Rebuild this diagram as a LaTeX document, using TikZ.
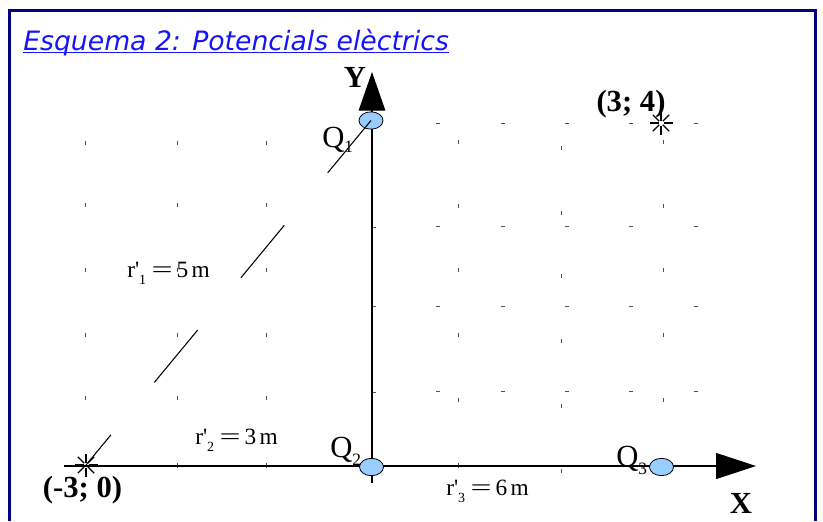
\documentclass[tikz,border=0pt]{standalone}
\usepackage{fontspec}
\setmainfont{Liberation Serif}[Ligatures=TeXOff]
\newfontfamily\titlefont{DejaVu Sans}
\usetikzlibrary{shapes.geometric,arrows.meta}
\definecolor{framenavy}{HTML}{000080}
\definecolor{titleblue}{HTML}{1414FF}
\definecolor{chargeblue}{HTML}{99CCFF}
\definecolor{gridgray}{HTML}{505050}
\newcommand{\qsub}[2]{\raisebox{#1}{\fontsize{13}{13}\selectfont #2}}
\newcommand{\rdist}[2]{r'\raisebox{-5.5pt}{\fontsize{10.5}{10.5}\selectfont #1}\hspace{4pt}\scalebox{1.6}[1]{=}\hspace{3pt}#2\hspace{2.5pt}m}
\begin{document}
\begin{tikzpicture}[x=0.75pt,y=-0.75pt,
  charge/.style={ellipse,draw=black,line width=0.6pt,fill=chargeblue,minimum width=18pt,minimum height=13pt,inner sep=0pt},
  axisline/.style={draw=black,line width=0.8pt},
  gridmark/.style={draw=gridgray,line width=0.75pt},
  qlbl/.style={inner sep=0pt,anchor=base west,font=\fontsize{23}{23}\selectfont},
  coordlbl/.style={inner sep=0pt,font=\fontsize{23}{23}\selectfont\bfseries},
  dist/.style={inner sep=0pt,anchor=base west,font=\fontsize{17.5}{17.5}\selectfont},
  dashline/.style={draw=black,line width=0.8pt,dash pattern=on 51pt off 51pt},
  starray/.style={draw=black,line width=0.9pt}
]
\useasboundingbox (0,0) rectangle (823,521);
% frame
\draw[framenavy,line width=2.2pt,line join=miter] (9.7,521) -- (9.7,10.7) -- (815.5,10.7) -- (815.5,521);
% title
\node[anchor=base west,inner sep=0pt,text=titleblue,font=\titlefont\itshape\fontsize{20}{20}\selectfont] (title) at (23,50) {Esquema 2: Potencials elèctrics};
\draw[titleblue,line width=0.9pt] ([yshift=-2pt]title.base west) -- ([yshift=-2pt]title.base east);
% grid marks
\foreach \gx in {85,177,266} \foreach \gy in {143,205,270,335,398} \draw[gridmark] (\gx,\gy-2) -- (\gx,\gy+2);
\foreach \gx in {458,663} \foreach \gy in {142,206,270,335,400} \draw[gridmark] (\gx,\gy-2) -- (\gx,\gy+2);
\foreach \gy in {148,213,276,341,406,471} \draw[gridmark] (561,\gy-2) -- (561,\gy+2);
\foreach \gx in {438,503,567,631,696} \foreach \gy in {123,226,306,391} \draw[gridmark] (\gx-2,\gy) -- (\gx+2,\gy);
\foreach \gx in {177,266,458} \draw[gridmark] (\gx,463) -- (\gx,468);
\foreach \gy in {227,306,392} \draw[gridmark] (372,\gy) -- (376,\gy);
% axes
\coordinate (O) at (372,466);
\coordinate (Ybot) at (372,483);
\coordinate (Ytip) at (372,72);
\coordinate (Xstart) at (64,466);
\coordinate (Xtip) at (756,466);
\draw[axisline,-{Triangle[width=20pt,length=29pt]}] (Ybot) -- (Ytip);
\draw[axisline,-{Triangle[width=19.5pt,length=30pt]}] (Xstart) -- (Xtip);
% charges
\node[charge] (Q1) at (371,120.5) {};
\node[charge] (Q2) at (371.5,467) {};
\node[charge] (Q3) at (661.5,467) {};
% points
\coordinate (s1) at (86,465);
\coordinate (s2) at (661,123);
\draw[dashline] (Q1.center) -- (s1);
\foreach \a in {0,45,...,315} {
  \draw[starray] ([shift={(\a:2.5)}]s1) -- ([shift={(\a:11.5)}]s1);
  \draw[starray] ([shift={(\a:2.5)}]s2) -- ([shift={(\a:11.5)}]s2);
}
% labels
\node[coordlbl] (ylbl) at (355,77.5) {Y};
\node[coordlbl] (xlbl) at (741,503) {X};
\node[coordlbl] (p34) at (631,104) {(3; 4)};
\node[coordlbl] (pm30) at (82.5,490.5) {(-3; 0)};
\node[qlbl] (lQ1) at (322,147) {Q\qsub{-4pt}{1}};
\node[qlbl] (lQ2) at (330,457) {Q\qsub{-6pt}{2}};
\node[qlbl] (lQ3) at (616,466) {Q\qsub{-6pt}{3}};
\node[dist] (r1) at (127,277) {\rdist{1}{5}};
\node[dist] (r2) at (195,444) {\rdist{2}{3}};
\node[dist] (r3) at (446,495) {\rdist{3}{6}};
\end{tikzpicture}
\end{document}
